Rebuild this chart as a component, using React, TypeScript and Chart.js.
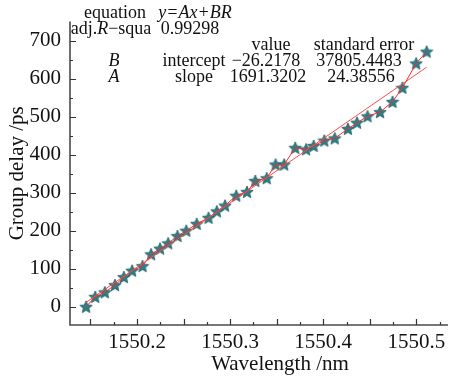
import React, { useEffect, useRef } from "react";
import { Chart, registerables } from "chart.js";

Chart.register(...registerables);

// Wavelength (nm) of each measured point
const wavelength = [
  1550.1453, 1550.1551, 1550.1654, 1550.1763, 1550.1858, 1550.1947, 1550.2059,
  1550.2151, 1550.2247, 1550.2334, 1550.2434, 1550.2529, 1550.2641, 1550.2768,
  1550.2857, 1550.2945, 1550.3065, 1550.3181, 1550.327, 1550.3393, 1550.3488,
  1550.358, 1550.3699, 1550.3816, 1550.3897, 1550.4011, 1550.4123, 1550.4265,
  1550.4363, 1550.4476, 1550.461, 1550.4744, 1550.485, 1550.4998, 1550.5111,
];
// Group delay (ps) of each measured point
const groupDelay = [
  0, 26, 38, 57, 78, 95, 107, 138, 153, 167, 186, 200, 218, 234, 251, 266, 292,
  302, 331, 338, 374, 374, 418, 414, 423, 437, 443, 468, 484, 501, 512, 539, 576,
  640, 671,
];
// Linear fit end points
const fitX = [1550.145, 1550.511];
const fitY = [11, 630];

const xTickLabels = [1550.2, 1550.3, 1550.4, 1550.5];
const xMajorTicks = [1550.15, 1550.2, 1550.25, 1550.3, 1550.35, 1550.4, 1550.45, 1550.5];
const xMinorTicks = [1550.175, 1550.225, 1550.275, 1550.325, 1550.375, 1550.425, 1550.475, 1550.525];
const yTickLabels = [0, 100, 200, 300, 400, 500, 600, 700];
const yMinorTicks = [50, 150, 250, 350, 450, 550, 650];

const xTitle = "Wavelength /nm";
const yTitle = "Group delay /ps";

// Fit-report table text
type Run = [string, boolean];
const tableRows: { y: number; cells: { cx: number; runs: Run[] }[] }[] = [
  { y: 13, cells: [
    { cx: 115, runs: [["equation", false]] },
    { cx: 195, runs: [["y=Ax+BR", true]] },
  ] },
  { y: 29, cells: [
    { cx: 111, runs: [["adj.", false], ["R", true], ["\u2212squa", false]] },
    { cx: 190, runs: [["0.99298", false]] },
  ] },
  { y: 45, cells: [
    { cx: 271, runs: [["value", false]] },
    { cx: 364, runs: [["standard error", false]] },
  ] },
  { y: 61, cells: [
    { cx: 114, runs: [["B", true]] },
    { cx: 194, runs: [["intercept", false]] },
    { cx: 266, runs: [["\u221226.2178", false]] },
    { cx: 359, runs: [["37805.4483", false]] },
  ] },
  { y: 77, cells: [
    { cx: 114, runs: [["A", true]] },
    { cx: 194, runs: [["slope", false]] },
    { cx: 268, runs: [["1691.3202", false]] },
    { cx: 361, runs: [["24.38556", false]] },
  ] },
];

const FONT = "'Liberation Serif', 'Times New Roman', serif";

function makeStar(size: number, fill: string, stroke: string) {
  const c = document.createElement("canvas");
  c.width = size;
  c.height = size;
  const g = c.getContext("2d")!;
  const cx = size / 2, cy = size / 2 + 0.5;
  const R = size / 2 - 0.5, r = R * 0.45;
  g.beginPath();
  for (let i = 0; i < 10; i++) {
    const rad = i % 2 === 0 ? R : r;
    const a = -Math.PI / 2 + (i * Math.PI) / 5;
    g.lineTo(cx + rad * Math.cos(a), cy + rad * Math.sin(a));
  }
  g.closePath();
  g.fillStyle = fill;
  g.fill();
  g.strokeStyle = stroke;
  g.lineWidth = 0.8;
  g.stroke();
  return c;
}

const decorPlugin = {
  id: "decor",
  afterDraw(chart: any) {
    const { ctx, chartArea, scales } = chart;
    const { left, right, top, bottom } = chartArea;
    const x = scales.x, y = scales.y;
    ctx.save();
    // axes
    ctx.strokeStyle = "#4a4a4a";
    ctx.lineWidth = 1.6;
    ctx.beginPath();
    ctx.moveTo(left, top);
    ctx.lineTo(left, bottom);
    ctx.lineTo(right, bottom);
    ctx.stroke();
    // ticks (inward)
    ctx.lineWidth = 1.2;
    ctx.strokeStyle = "#333";
    ctx.beginPath();
    xMajorTicks.forEach((v) => { const p = Math.round(x.getPixelForValue(v)) + 0.5; ctx.moveTo(p, bottom); ctx.lineTo(p, bottom - 6); });
    xMinorTicks.forEach((v) => { const p = Math.round(x.getPixelForValue(v)) + 0.5; ctx.moveTo(p, bottom); ctx.lineTo(p, bottom - 3); });
    yTickLabels.forEach((v) => { const p = Math.round(y.getPixelForValue(v)) + 0.5; ctx.moveTo(left, p); ctx.lineTo(left + 6, p); });
    yMinorTicks.forEach((v) => { const p = Math.round(y.getPixelForValue(v)) + 0.5; ctx.moveTo(left, p); ctx.lineTo(left + 3, p); });
    ctx.stroke();

    // axis titles
    ctx.fillStyle = "#111";
    ctx.font = `21px ${FONT}`;
    ctx.textAlign = "center";
    ctx.textBaseline = "middle";
    ctx.fillText(xTitle, 280, 364);
    ctx.save();
    ctx.translate(17, (top + bottom) / 2);
    ctx.rotate(-Math.PI / 2);
    ctx.fillText(yTitle, 0, 0);
    ctx.restore();

    // table
    ctx.textAlign = "left";
    ctx.textBaseline = "middle";
    tableRows.forEach((row) => {
      row.cells.forEach((cell) => {
        let w = 0;
        cell.runs.forEach(([t, it]) => {
          ctx.font = `${it ? "italic " : ""}18px ${FONT}`;
          w += ctx.measureText(t).width;
        });
        let cx = cell.cx - w / 2;
        cell.runs.forEach(([t, it]) => {
          ctx.font = `${it ? "italic " : ""}18px ${FONT}`;
          ctx.fillText(t, cx, row.y);
          cx += ctx.measureText(t).width;
        });
      });
    });
    ctx.restore();
  },
};

export default function App() {
  const ref = useRef<HTMLCanvasElement | null>(null);
  useEffect(() => {
    document.body.style.margin = "0";
    const star = makeStar(14, "#2c7f86", "#1c5d63");
    const pts = wavelength.map((w, i) => ({ x: w, y: groupDelay[i] }));
    const fit = fitX.map((w, i) => ({ x: w, y: fitY[i] }));
    const chart = new Chart(ref.current!, {
      type: "scatter",
      data: {
        datasets: [
          { data: fit, showLine: true, borderColor: "#ff4a4a", borderWidth: 1, pointRadius: 0, order: 0 } as any,
          { data: pts, showLine: true, borderColor: "#ff2a2a", borderWidth: 1, pointRadius: 0, order: 1 } as any,
          { data: pts, showLine: false, pointStyle: star, pointRadius: 7, order: 2 } as any,
        ],
      },
      options: {
        animation: false,
        responsive: false,
        events: [],
        layout: { padding: { top: 7, right: 4, left: 0, bottom: 0 } },
        plugins: { legend: { display: false }, tooltip: { enabled: false } },
        scales: {
          x: {
            type: "linear",
            min: 1550.128,
            max: 1550.534,
            grid: { display: false, drawTicks: false },
            border: { display: false },
            ticks: {
              font: { family: FONT, size: 21 },
              color: "#111",
              padding: 5,
              maxRotation: 0,
              callback: (v: any) => Number(v).toFixed(1),
            },
            afterBuildTicks: (s: any) => { s.ticks = xTickLabels.map((v) => ({ value: v })); },
            afterFit: (s: any) => { s.height = 53; },
          },
          y: {
            type: "linear",
            min: -48,
            max: 750,
            grid: { display: false, drawTicks: false },
            border: { display: false },
            ticks: {
              font: { family: FONT, size: 21 },
              color: "#111",
              padding: 9,
              callback: (v: any) => String(v),
            },
            afterBuildTicks: (s: any) => { s.ticks = yTickLabels.map((v) => ({ value: v })); },
            afterFit: (s: any) => { s.width = 70; },
          },
        },
      },
      plugins: [decorPlugin],
    });
    return () => chart.destroy();
  }, []);
  return (
    <div style={{ width: 456, height: 378 }}>
      <canvas ref={ref} width={456} height={378} style={{ display: "block" }} />
    </div>
  );
}
